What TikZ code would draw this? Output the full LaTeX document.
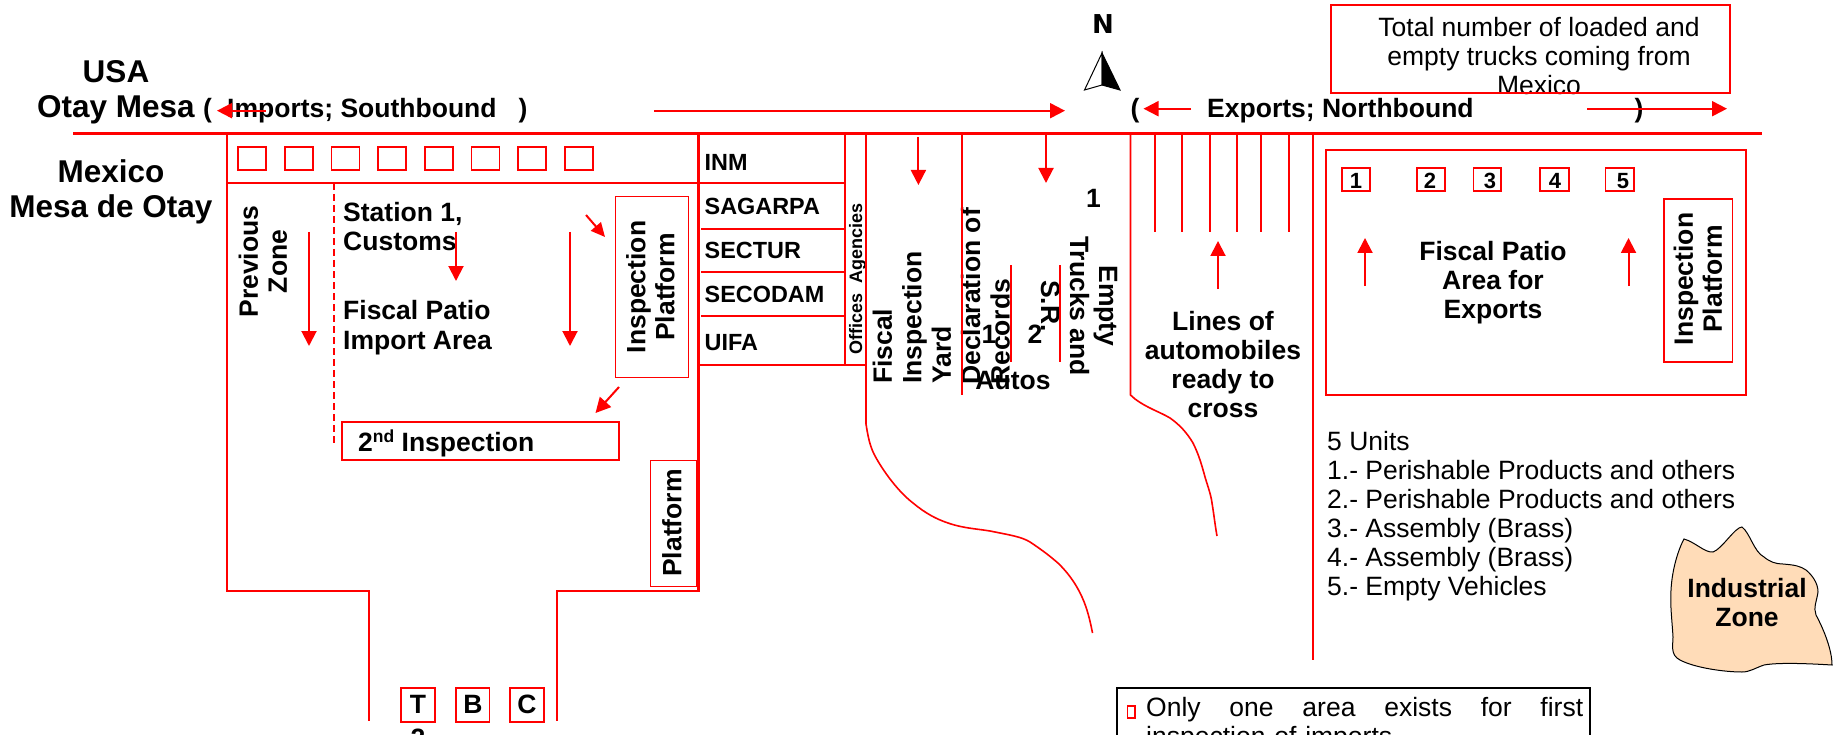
\documentclass[tikz,border=0pt]{standalone}
\usepackage{fontspec}
\setmainfont{Liberation Sans}
\newfontfamily\northfont{DejaVu Sans}
\usetikzlibrary{arrows.meta}
\tikzset{
  wall/.style={draw=red,line width=2.2pt},
  thin wall/.style={draw=red,line width=1.6pt},
  hair/.style={draw=red,line width=1pt},
  flow/.style={draw=red,line width=2pt,-{Triangle[length=15pt,width=15pt]}},
  flowsmall/.style={draw=red,line width=2pt,-{Triangle[length=14pt,width=13pt]}},
  curb/.style={draw=red,line width=1.6pt,rounded corners=0pt},
  bt/.style={font=\bfseries\fontsize{26.5}{29}\selectfont,inner sep=0pt,align=center,text=black},
  btl/.style={font=\bfseries\fontsize{26.5}{29.5}\selectfont,inner sep=0pt,align=left,text=black},
  rt/.style={font=\fontsize{26.5}{29}\selectfont,inner sep=0pt,align=left,text=black},
  big/.style={font=\bfseries\fontsize{31.5}{35}\selectfont,inner sep=0pt,align=center,text=black},
  agency/.style={font=\bfseries\fontsize{23.4}{27}\selectfont,inner sep=0pt,anchor=west,text=black},
  num/.style={font=\bfseries\fontsize{22}{24}\selectfont,inner sep=0pt,text=black},
}
\begin{document}
\begin{tikzpicture}[x=1pt,y=-1pt]
\useasboundingbox (0,0) rectangle (1835,735);
\clip (0,0) rectangle (1835,735);
\fill[white] (0,0) rectangle (1835,735);
% ---------- text
\node[big] (usa) at (116,72) {USA};
\node[big,anchor=west] (otay) at (37,110) {Otay Mesa};
\node[big,anchor=center] (mex) at (111,191.5) {Mexico\\Mesa de Otay};
\node[bt] (po) at (207.5,111) {(};
\node[bt,anchor=west] (imp) at (227,111) {Imports; Southbound};
\node[bt] (pc) at (523,111) {)};
\node[bt] (po2) at (1135,111) {(};
\node[bt,anchor=west] (exp) at (1207,111) {Exports; Northbound};
\node[bt] (pc2) at (1639,111) {)};
\node[bt,rotate=90] (prev) at (263,261.5) {Previous\\Zone};
\node[btl,anchor=north west] (st) at (343,202) {Station 1,\\Customs};
\node[btl,anchor=north west] (fp) at (343,300.5) {Fiscal Patio\\Import Area};
\node[bt,rotate=90] (ip1) at (650.5,287) {Inspection\\Platform};
\node[btl,anchor=west] (second) at (358,443.5) {2\raisebox{9pt}{\fontsize{17.5}{18}\selectfont nd} Inspection};
\node[bt,rotate=90] (plat) at (672,523) {Platform};
\node[agency] (inm) at (704.5,162) {INM};
\node[agency] (sag) at (704.5,206) {SAGARPA};
\node[agency] (sec) at (704.5,250.5) {SECTUR};
\node[agency] (sed) at (704.5,294.5) {SECODAM};
\node[agency] (uif) at (704.5,343) {UIFA};
\node[font=\bfseries\fontsize{18}{20}\selectfont,inner sep=0pt,rotate=90,text=black] (off) at (857.5,279) {Offices\ \ Agencies};
\node[btl,rotate=90,anchor=west] (fy) at (912,384) {Fiscal\\Inspection\\Yard};
\node[btl,rotate=90,anchor=west] (dr) at (985.5,385) {Declaration of\\Records};
\node[bt] (autos) at (1013,381) {Autos};
\node[bt] (n1) at (989,334) {1};
\node[bt] (n2) at (1035,334) {2};
\node[bt] (n3) at (1093.6,198) {1};
\node[bt,rotate=-90] (empty) at (1079,306) {Empty\\Trucks and\\S.R.};
\node[bt] (lines) at (1223,365) {Lines of\\automobiles\\ready to\\cross};
\node[bt] (fpe) at (1493,283) {Fiscal Patio\\Area for\\Exports};
\node[bt,rotate=90] (ip2) at (1698,279) {Inspection\\Platform};
\node[font=\fontsize{26.5}{29}\selectfont,inner sep=0pt,align=center,text=black] (total) at (1539,56) {Total number of loaded and\\empty trucks coming from\\Mexico};
\node[rt,anchor=north west] (units) at (1327,431) {5 Units\\1.- Perishable Products and others\\2.- Perishable Products and others\\3.- Assembly (Brass)\\4.- Assembly (Brass)\\5.- Empty Vehicles};
\node[num] (u1) at (1356,181) {1};
\node[num] (u2) at (1430,181) {2};
\node[num] (u3) at (1490,181) {3};
\node[num] (u4) at (1555,181) {4};
\node[num] (u5) at (1623,181) {5};
\node[bt] (tt) at (418,704) {T};
\node[bt] (tb) at (473,704) {B};
\node[bt] (tc) at (527,704) {C};
\node[bt,anchor=base] (tq) at (418,747) {2};
% ---------- main walls
\draw[wall] (73,133.5) -- (1762,133.5);
\draw[wall] (227,133) -- (227,591) -- (369,591) -- (369,721);
\draw[wall] (698.5,133) -- (698.5,591) -- (557,591) -- (557,721);
\draw[thin wall] (227,183) -- (845,183);
\draw[thin wall] (701,229) -- (845,229);
\draw[thin wall] (701,272) -- (845,272);
\draw[thin wall] (701,316) -- (845,316);
\draw[thin wall] (699,365) -- (865,365);
\draw[thin wall] (845,133) -- (845,366);
\draw[curb] (866,133) -- (866,424) .. controls (868,437) and (870,446) .. (874,454) .. controls (880,466) and (896,490) .. (913,503) .. controls (925,513) and (936,519) .. (948,523) .. controls (965,529) and (982,529) .. (995,532) .. controls (1010,535) and (1022,537) .. (1030,542) .. controls (1042,550) and (1050,556) .. (1059,564) .. controls (1070,575) and (1077,586) .. (1082,597) .. controls (1087,608) and (1090,620) .. (1092.5,633);
\draw[thin wall] (962,133) -- (962,395);
\draw[hair,line width=1.4pt] (1011,265) -- (1011,362);
\draw[hair,line width=1.4pt] (1060,265) -- (1060,362);
\draw[curb] (1130.5,133) -- (1130.5,395) -- (1135,399) .. controls (1147,408) and (1160,412) .. (1170,418) .. controls (1180,425) and (1187,433) .. (1193,443) .. controls (1199,455) and (1202,466) .. (1205,477) .. controls (1208,487) and (1211,495) .. (1212,503) .. controls (1214,515) and (1215,525) .. (1217,536);
\foreach \lx in {1155,1182,1210,1237,1261,1289} \draw[thin wall] (\lx,133) -- (\lx,232);
\draw[thin wall] (1313,133) -- (1313,660);
% ---------- boxes
\foreach \i in {0,...,7} \draw[thin wall] (238+46.7*\i,147) rectangle (266+46.7*\i,170);
\draw[draw=red,line width=1.4pt,dash pattern=on 7pt off 4pt] (334,183) -- (334,443);
\draw[hair] (615,197) rectangle (688,377);
\draw[thin wall,line width=2pt] (342,422) rectangle (619,460);
\draw[hair] (650,460) rectangle (696,586);
\draw[thin wall] (1326,150) rectangle (1746,395);
\draw[thin wall] (1342,168) rectangle (1370,191);
\draw[thin wall] (1417,168) rectangle (1445,191);
\draw[thin wall] (1473.5,168) rectangle (1501,191);
\draw[thin wall] (1540,168) rectangle (1569,191);
\draw[thin wall] (1605.5,168) rectangle (1634,191);
\draw[thin wall] (1664,199) rectangle (1732.5,362);
\draw[thin wall] (1331,5) rectangle (1730,93);
\draw[thin wall] (401,688) rectangle (435,722);
\draw[thin wall] (456,688) rectangle (489.5,722);
\draw[thin wall] (510,688) rectangle (544,722);
% ---------- arrows
\coordinate (a1s) at (266,110.7); \coordinate (a1e) at (217,110.7);
\coordinate (a2s) at (654,110.7); \coordinate (a2e) at (1065,110.7);
\coordinate (a3s) at (1191,108.7); \coordinate (a3e) at (1143.5,108.7);
\coordinate (a4s) at (1587,108.7); \coordinate (a4e) at (1727,108.7);
\draw[flow] (a1s) -- (a1e);
\draw[flow] (a2s) -- (a2e);
\draw[flow] (a3s) -- (a3e);
\draw[flow] (a4s) -- (a4e);
\draw[flow] (309,232) -- (309,346);
\draw[flow] (456,232) -- (456,281);
\draw[flow] (570,232) -- (570,346);
\draw[flowsmall] (586,215) -- (605,237);
\draw[flow] (619,387) -- (595.5,413);
\draw[flow] (918.4,137) -- (918.4,185);
\draw[flow] (1046,135) -- (1046,183);
\draw[flow] (1218,289) -- (1218,241);
\draw[flow] (1365,286) -- (1365,238);
\draw[flow] (1628.5,286) -- (1628.5,238);
% ---------- north mark
\node[font=\northfont\bfseries\fontsize{26}{28}\selectfont,inner sep=0pt,text=black] (north) at (1103,24) {N};
\draw[black,line width=1pt,fill=white] (1102,53) -- (1084.5,90) -- (1102,85) -- cycle;
\draw[black,line width=1pt,fill=black] (1102,53) -- (1120,90) -- (1102,85) -- cycle;
% ---------- industrial zone
\draw[black,line width=1pt,fill={rgb,255:red,255;green,220;blue,184}]
  (1684,539) .. controls (1695,542) and (1705,553) .. (1713,552)
  .. controls (1722,549) and (1735,527) .. (1742,527)
  .. controls (1750,533) and (1754,552) .. (1764,557)
  .. controls (1770,562) and (1776,564) .. (1783,564)
  .. controls (1795,565) and (1800,566) .. (1806,570)
  .. controls (1812,575) and (1818,583) .. (1818,592)
  .. controls (1817,600) and (1813,608) .. (1816,615)
  .. controls (1824,630) and (1832,650) .. (1832,665)
  .. controls (1815,664) and (1780,662) .. (1764,665)
  .. controls (1755,668) and (1750,672) .. (1742,672)
  .. controls (1725,672) and (1695,668) .. (1680,660)
  .. controls (1670,655) and (1673,645) .. (1673,637)
  .. controls (1672,620) and (1670,605) .. (1671,590)
  .. controls (1672,570) and (1678,550) .. (1684,539) -- cycle;
\node[bt] (ind) at (1747,603) {Industrial\\Zone};
% ---------- bottom note
\draw[black,line width=1.4pt] (1117,688) rectangle (1590,800);
\draw[draw=red,line width=1.3pt] (1127.7,706) rectangle (1135,718);
\node[rt,anchor=north west,text width=437pt,align=left] (note) at (1146,697) {Only\hfill one\hfill area\hfill exists\hfill for\hfill first\\inspection of imports};
\end{tikzpicture}
\end{document}
